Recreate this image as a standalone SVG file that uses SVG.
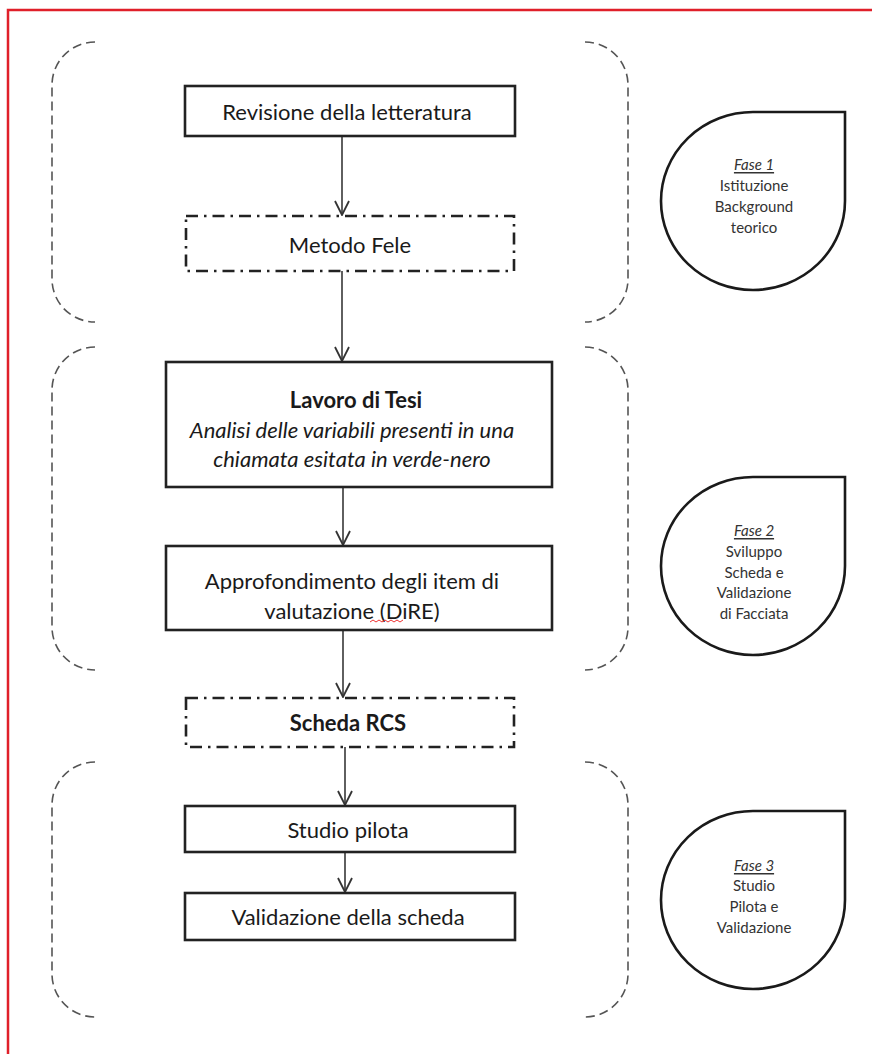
<svg xmlns="http://www.w3.org/2000/svg" width="872" height="1054" viewBox="0 0 872 1054">
<style>
.frame{fill:none;stroke:#e0202a;stroke-width:2.5}
.br{fill:none;stroke:#555;stroke-width:1.6;stroke-dasharray:9 5}
.box{fill:#fff;stroke:#222;stroke-width:2.6}
.dd{fill:#fff;stroke:#222;stroke-width:2.6;stroke-dasharray:12 6 2.5 6}
.t{font-family:Lato,"Open Sans",sans-serif;font-size:22px;fill:#1a1a1a;text-anchor:middle;dominant-baseline:central}
.conn{fill:none;stroke:#444;stroke-width:1.7}
.drop{fill:#fff;stroke:#1a1a1a;stroke-width:2.6}
.s{font-family:Lato,"Open Sans",sans-serif;font-size:15px;fill:#333;text-anchor:middle;dominant-baseline:central}
</style>
<defs>
<marker id="v" markerWidth="18" markerHeight="18" refX="15" refY="8" orient="auto" markerUnits="userSpaceOnUse">
<path d="M1,1 L15,8 L1,15" fill="none" stroke="#333" stroke-width="1.8"/>
</marker>
</defs>
<rect class="frame" x="8" y="10" width="880" height="1060"/>
<g id="groups">
<path class="br" d="M95 42 A43 43 0 0 0 52 85 L52 279 A43 43 0 0 0 95 322"/>
<path class="br" d="M585 42 A43 43 0 0 1 628 85 L628 279 A43 43 0 0 1 585 322"/>
<path class="br" d="M95 347 A43 43 0 0 0 52 390 L52 627 A43 43 0 0 0 95 670"/>
<path class="br" d="M585 347 A43 43 0 0 1 628 390 L628 627 A43 43 0 0 1 585 670"/>
<path class="br" d="M95 762 A43 43 0 0 0 52 805 L52 974 A43 43 0 0 0 95 1017"/>
<path class="br" d="M585 762 A43 43 0 0 1 628 805 L628 974 A43 43 0 0 1 585 1017"/>
</g>
<g id="connectors">
<line class="conn" x1="342" y1="136" x2="342" y2="215" marker-end="url(#v)"/>
<line class="conn" x1="342" y1="271" x2="342" y2="361" marker-end="url(#v)"/>
<line class="conn" x1="343" y1="487" x2="343" y2="545" marker-end="url(#v)"/>
<line class="conn" x1="343" y1="630" x2="343" y2="697" marker-end="url(#v)"/>
<line class="conn" x1="345" y1="747" x2="345" y2="805" marker-end="url(#v)"/>
<line class="conn" x1="345" y1="852" x2="345" y2="892" marker-end="url(#v)"/>
</g>
<g id="n1"><rect class="box" x="185" y="86" width="330" height="50"/><text class="t" x="347" y="111">Revisione della letteratura</text></g>
<g id="n2"><rect class="dd" x="186" y="216" width="328" height="55"/><text class="t" x="350" y="244">Metodo Fele</text></g>
<g id="n3"><rect class="box" x="166" y="362" width="386" height="125"/>
<text class="t" x="356" y="399" font-weight="bold" font-size="22.5">Lavoro di Tesi</text>
<text class="t" x="352" y="429" font-style="italic" font-size="23.5">Analisi delle variabili presenti in una</text>
<text class="t" x="352" y="458" font-style="italic" font-size="23.5">chiamata esitata in verde-nero</text></g>
<g id="n4"><rect class="box" x="166" y="546" width="386" height="84"/>
<text class="t" x="352" y="580">Approfondimento degli item di</text>
<text class="t" x="352" y="610">valutazione (DiRE)</text>
<path d="M370 622 l3 -2 l3 2 l3 -2 l3 2 l3 -2 l3 2 l3 -2 l3 2 l3 -2 l3 2 l3 -2" fill="none" stroke="#e33" stroke-width="1"/></g>
<g id="n5"><rect class="dd" x="186" y="698" width="328" height="49"/><text class="t" x="348" y="722" font-weight="bold">Scheda RCS</text></g>
<g id="n6"><rect class="box" x="185" y="806" width="330" height="46"/><text class="t" x="348" y="829">Studio pilota</text></g>
<g id="n7"><rect class="box" x="185" y="893" width="330" height="47"/><text class="t" x="348" y="916">Validazione della scheda</text></g>
<g id="f1"><path class="drop" d="M753 112 L845 112 L845 201 A92 89 0 1 1 753 112 Z"/>
<text class="s" x="754" y="164" font-style="italic" text-decoration="underline">Fase 1</text>
<text class="s" x="754" y="185">Istituzione</text>
<text class="s" x="754" y="206">Background</text>
<text class="s" x="754" y="227">teorico</text></g>
<g id="f2"><path class="drop" d="M753 477 L845 477 L845 566 A92 89 0 1 1 753 477 Z"/>
<text class="s" x="754" y="530" font-style="italic" text-decoration="underline">Fase 2</text>
<text class="s" x="754" y="551">Sviluppo</text>
<text class="s" x="754" y="572">Scheda e</text>
<text class="s" x="754" y="592">Validazione</text>
<text class="s" x="754" y="613">di Facciata</text></g>
<g id="f3"><path class="drop" d="M753 811 L845 811 L845 900 A92 89 0 1 1 753 811 Z"/>
<text class="s" x="754" y="865" font-style="italic" text-decoration="underline">Fase 3</text>
<text class="s" x="754" y="885">Studio</text>
<text class="s" x="754" y="906">Pilota e</text>
<text class="s" x="754" y="927">Validazione</text></g>
</svg>
